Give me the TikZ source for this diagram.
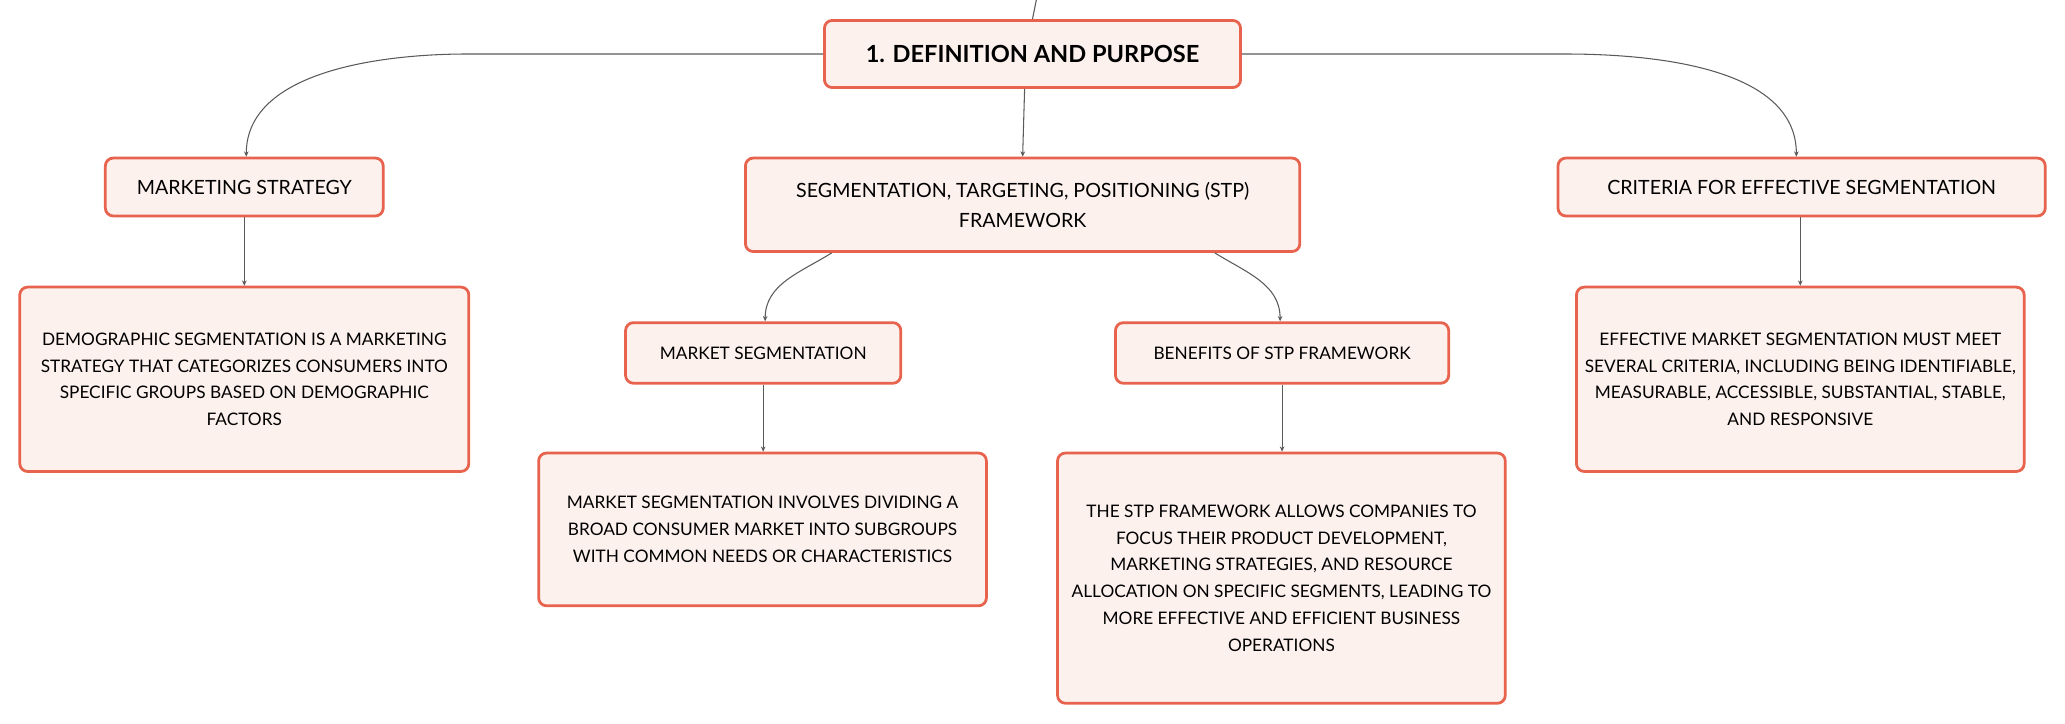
\documentclass[tikz,border=0pt]{standalone}
\usepackage{fontspec}
\setmainfont{Lato}
\usetikzlibrary{arrows.meta}
\definecolor{boxline}{HTML}{E8634D}
\definecolor{boxfill}{HTML}{FDF1EE}
\definecolor{conn}{HTML}{5A5A5A}
\tikzset{
  mbox/.style={draw=boxline, line width=2.1pt, fill=boxfill, rounded corners=6pt,
    align=center, inner sep=0pt, font=\fontsize{13.1}{20.4}\selectfont},
  tbox/.style={mbox, font=\fontsize{14.9}{23}\selectfont},
  rootbox/.style={mbox, font=\fontsize{17.9}{21}\selectfont\bfseries},
  conn/.style={draw=conn, line width=0.8pt, -{Stealth[length=4pt,width=3.5pt]}},
  connplain/.style={draw=conn, line width=0.8pt}
}
\begin{document}
\begin{tikzpicture}[x=1pt,y=-1pt]
\useasboundingbox[fill=white] (0,0) rectangle (1568,549);
\node[rootbox, minimum width=316pt, minimum height=51pt] (root) at (784,41) {1. DEFINITION AND PURPOSE};
\node[tbox, minimum width=211pt, minimum height=44pt] (ms) at (185.5,142) {MARKETING STRATEGY};
\node[tbox, minimum width=421pt, minimum height=71pt] (stp) at (776.5,155.5) {SEGMENTATION, TARGETING, POSITIONING (STP)\\FRAMEWORK};
\node[tbox, minimum width=370pt, minimum height=44pt] (crit) at (1368,142) {CRITERIA FOR EFFECTIVE SEGMENTATION};
\node[mbox, minimum width=341pt, minimum height=140pt] (demo) at (185.5,288) {DEMOGRAPHIC SEGMENTATION IS A MARKETING\\STRATEGY THAT CATEGORIZES CONSUMERS INTO\\SPECIFIC GROUPS BASED ON DEMOGRAPHIC\\FACTORS};
\node[mbox, minimum width=209pt, minimum height=46pt] (mseg) at (579.5,268) {MARKET SEGMENTATION};
\node[mbox, minimum width=253pt, minimum height=46pt] (ben) at (973.5,268) {BENEFITS OF STP FRAMEWORK};
\node[mbox, minimum width=340pt, minimum height=116pt] (msegd) at (579,402) {MARKET SEGMENTATION INVOLVES DIVIDING A\\BROAD CONSUMER MARKET INTO SUBGROUPS\\WITH COMMON NEEDS OR CHARACTERISTICS};
\node[mbox, minimum width=340pt, minimum height=190pt] (bend) at (973,439) {THE STP FRAMEWORK ALLOWS COMPANIES TO\\FOCUS THEIR PRODUCT DEVELOPMENT,\\MARKETING STRATEGIES, AND RESOURCE\\ALLOCATION ON SPECIFIC SEGMENTS, LEADING TO\\MORE EFFECTIVE AND EFFICIENT BUSINESS\\OPERATIONS};
\node[mbox, minimum width=340pt, minimum height=140pt] (critd) at (1367,288) {EFFECTIVE MARKET SEGMENTATION MUST MEET\\SEVERAL CRITERIA, INCLUDING BEING IDENTIFIABLE,\\MEASURABLE, ACCESSIBLE, SUBSTANTIAL, STABLE,\\AND RESPONSIVE};
\coordinate (up) at (787.5,-3);
% connectors
\draw[connplain] (root.north) -- (up);
\draw[conn] (root.west) -- ([xshift=-270pt]root.west) to[out=180,in=90,looseness=0.9] ([xshift=1.5pt]ms.north);
\draw[conn] (root.east) -- ([xshift=245pt]root.east) to[out=0,in=90,looseness=0.9] ([xshift=-4pt]crit.north);
\draw[conn] ([xshift=-6pt]root.south) -- (stp.north);
\draw[conn] ([xshift=-145pt]stp.south) to[out=212,in=90] ([xshift=1.5pt]mseg.north);
\draw[conn] ([xshift=146pt]stp.south) to[out=-32,in=90] ([xshift=-1.5pt]ben.north);
\draw[conn] (ms.south) -- (demo.north);
\draw[conn] (mseg.south) -- (msegd.north -| mseg.south);
\draw[conn] (ben.south) -- (bend.north -| ben.south);
\draw[conn] (crit.south -| critd.north) -- (critd.north);
\end{tikzpicture}
\end{document}
